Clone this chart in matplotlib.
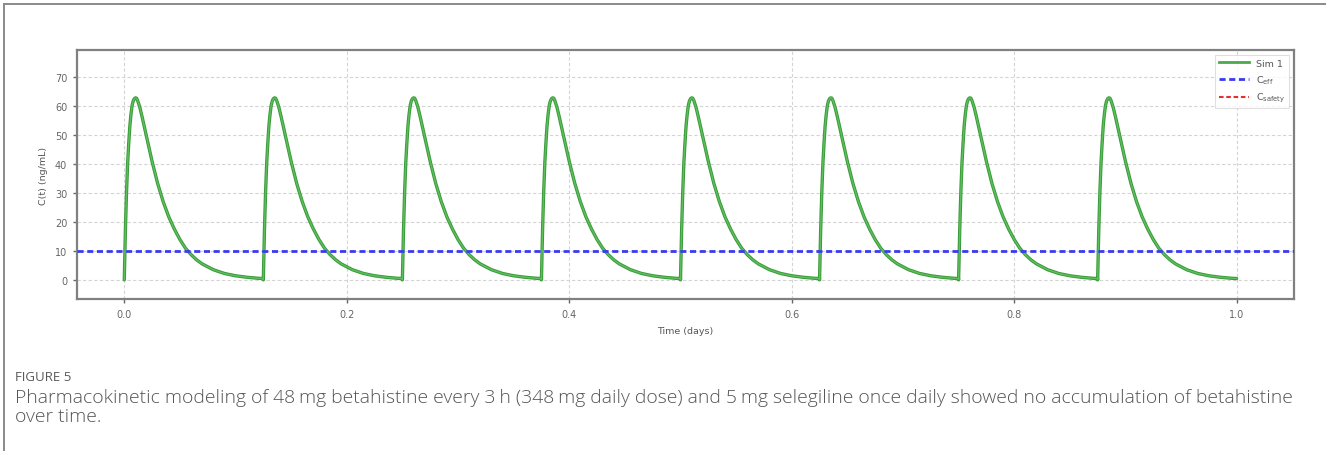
import numpy as np
import matplotlib
matplotlib.use("Agg")
import matplotlib.pyplot as plt
from matplotlib.lines import Line2D

# ---- data ----
dose_times = [0.0, 0.125, 0.25, 0.375, 0.5, 0.625, 0.75, 0.875]   # days
cycle_offsets = [0.0, 0.001, 0.002, 0.003, 0.004, 0.005, 0.006, 0.007, 0.008,
                 0.009, 0.010, 0.011, 0.012, 0.014, 0.016, 0.018, 0.020, 0.025,
                 0.030, 0.035, 0.040, 0.045, 0.050, 0.055, 0.060, 0.065, 0.070,
                 0.080, 0.090, 0.100, 0.110, 0.120, 0.1249]
cycle_conc = [0.0, 17.0, 30.0, 40.0, 47.0, 53.0, 57.0, 60.0, 61.6,
              62.4, 62.7, 62.6, 61.8, 59.4, 56.2, 52.8, 49.3, 40.8,
              33.2, 26.9, 21.7, 17.5, 13.9, 10.9, 8.7, 6.9, 5.5,
              3.5, 2.2, 1.4, 0.9, 0.55, 0.45]
c_eff = 10.0
c_safety = 100.0   # not visible within the plotted range
x_ticks = [0.0, 0.2, 0.4, 0.6, 0.8, 1.0]
y_ticks = [0, 10, 20, 30, 40, 50, 60, 70]
series_label = "Sim 1"
eff_label = r"C$_{\mathrm{eff}}$"
safety_label = r"C$_{\mathrm{safety}}$"
x_label = "Time (days)"
y_label = "C(t) (ng/mL)"
fig_label = "FIGURE 5"
caption_1 = ("Pharmacokinetic modeling of 48\u2009mg betahistine every 3\u2009h (348\u2009mg daily dose) "
             "and 5\u2009mg selegiline once daily showed no accumulation of betahistine")
caption_2 = "over time."

# build series
t = []
c = []
for d in dose_times:
    for o, v in zip(cycle_offsets, cycle_conc):
        t.append(d + o)
        c.append(v)
t = np.array(t)
c = np.array(c)

W, H = 1326, 452
fig = plt.figure(figsize=(W / 100, H / 100), dpi=100)
fig.patch.set_facecolor("white")

# outer frame (top and left)
fig.add_artist(Line2D([4 / W, 1.0], [1 - 5 / H, 1 - 5 / H], transform=fig.transFigure,
                      color="#8a8a8a", lw=1.4))
fig.add_artist(Line2D([4 / W, 4 / W], [0, 1 - 5 / H], transform=fig.transFigure,
                      color="#8a8a8a", lw=1.4))

ax = fig.add_axes([77 / W, 1 - 300 / H, (1294 - 77) / W, (300 - 51) / H])
ax.plot(t, c, color="#3a9a3a", lw=2.4, zorder=3, solid_capstyle="round")
ax.plot(t, c, color="#5cbf5c", lw=1.0, label=series_label, zorder=3)
ax.axhline(c_eff, color="#3a3af0", lw=2.0, ls=(0, (2.2, 1.3)), label=eff_label, zorder=4)
ax.axhline(c_safety, color="#e03030", lw=1.5, ls=(0, (2.2, 1.3)), label=safety_label, zorder=4)

ax.set_xlim(-0.0425, 1.0515)
ax.set_ylim(-6.6, 79.2)
ax.set_xticks(x_ticks)
ax.set_yticks(y_ticks)
ax.set_xticklabels([f"{v:.1f}" for v in x_ticks])
ax.set_yticklabels([str(v) for v in y_ticks])
ax.grid(True, color="#d4d4d4", ls=(0, (3, 2)), lw=0.8)
ax.set_axisbelow(True)
for s in ax.spines.values():
    s.set_color("#808080")
    s.set_linewidth(1.6)
ax.tick_params(axis="both", labelsize=7, colors="#666666", length=3, width=1, pad=4)
ax.set_xlabel(x_label, fontsize=6.8, color="#555555", labelpad=5)
ax.set_ylabel(y_label, fontsize=6.8, color="#555555", labelpad=5)

# legend with a two-tone green handle
handles, labels = ax.get_legend_handles_labels()
handles[0] = Line2D([], [], color="#4aaa4a", lw=2.0)
leg = ax.legend(handles, labels, loc="upper right", fontsize=6.8, handlelength=3.2,
                frameon=True, borderaxespad=0.5, labelspacing=0.6, fancybox=False)
leg.get_frame().set_edgecolor("#d8d8d8")
leg.get_frame().set_linewidth(0.8)
for txt in leg.get_texts():
    txt.set_color("#555555")

# caption
fam = ["Open Sans", "DejaVu Sans"]
fig.text(15 / W, 1 - 378 / H, fig_label, fontsize=9.5, color="#5a5a5a",
         family=fam, va="center", ha="left")
t1 = fig.text(15 / W, 1 - 398 / H, caption_1, fontsize=11, color="#555555",
              family=fam, weight="light", va="center", ha="left")
fig.text(15 / W, 1 - 417 / H, caption_2, fontsize=11, color="#555555",
         family=fam, weight="light", va="center", ha="left")

# fit caption width to reference (~1275 px)
fig.canvas.draw()
bb = t1.get_window_extent()
scale = 1275 / bb.width
for txt in fig.texts[1:]:
    txt.set_fontsize(11 * scale)

fig.savefig("out.png", dpi=100)
